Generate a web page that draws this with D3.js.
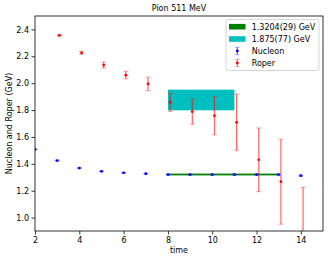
<!DOCTYPE html>
<html><head><meta charset="utf-8">
<script src="https://cdn.jsdelivr.net/npm/d3@7"></script>
<style>body{margin:0;background:#fff}svg text{font-family:"DejaVu Sans",sans-serif}</style>
</head><body>
<svg id="c" width="332" height="262"></svg>
<script>
const nucT = [2,3,4,5,6,7,8,9,10,11,12,13,14];
const nucV = [1.508,1.424,1.368,1.344,1.333,1.326,1.320,1.320,1.320,1.320,1.320,1.320,1.312];
const nucE = [0.003,0.003,0.003,0.003,0.003,0.003,0.003,0.003,0.003,0.003,0.003,0.003,0.004];
const ropT = [3,4,5,6,7,8,9,10,11,12,13,14];
const ropV = [2.356,2.226,2.135,2.060,1.995,1.858,1.788,1.758,1.709,1.430,1.267,0.88];
const ropE = [0.006,0.012,0.022,0.028,0.050,0.068,0.094,0.142,0.210,0.237,0.316,0.345];
const fitN = {t0:8, t1:13, v:1.3204, e:0.0029, label:"1.3204(29) GeV"};
const fitR = {t0:8, t1:11, v:1.875, e:0.077, label:"1.875(77) GeV"};
const xTicks = [2,4,6,8,10,12,14];
const yTicks = [1.0,1.2,1.4,1.6,1.8,2.0,2.2,2.4];

const svg = d3.select("#c");
const L=35,R=323,T=16,B=231;
const x = d3.scaleLinear().domain([2,15]).range([L,R]);
const y = d3.scaleLinear().domain([0.9,2.5]).range([B,T]);
const fs = 8;

const clip = svg.append("clipPath").attr("id","pc").append("rect")
  .attr("x",L).attr("y",T).attr("width",R-L).attr("height",B-T);
const g = svg.append("g").attr("clip-path","url(#pc)");

// cyan band
g.append("rect").attr("x",x(fitR.t0)).attr("width",x(fitR.t1)-x(fitR.t0))
  .attr("y",y(fitR.v+fitR.e)).attr("height",y(fitR.v-fitR.e)-y(fitR.v+fitR.e))
  .attr("fill","#00bfbf");
// green band
g.append("rect").attr("x",x(fitN.t0)).attr("width",x(fitN.t1)-x(fitN.t0))
  .attr("y",y(fitN.v+fitN.e)).attr("height",y(fitN.v-fitN.e)-y(fitN.v+fitN.e))
  .attr("fill","#008000").attr("stroke","#008000").attr("stroke-width",1);

function errbars(ts,vs,es,off,color){
  ts.forEach((t,i)=>{
    const cx = x(t+off);
    g.append("line").attr("x1",cx).attr("x2",cx).attr("y1",y(vs[i]-es[i])).attr("y2",y(vs[i]+es[i]))
      .attr("stroke",color).attr("stroke-opacity",0.6).attr("stroke-width",1.2);
    [vs[i]-es[i],vs[i]+es[i]].forEach(v=>{
      g.append("line").attr("x1",cx-2.5).attr("x2",cx+2.5).attr("y1",y(v)).attr("y2",y(v))
        .attr("stroke",color).attr("stroke-opacity",0.3).attr("stroke-width",1.2);
    });
    g.append("circle").attr("cx",cx).attr("cy",y(vs[i])).attr("r",1.4).attr("fill",color);
  });
}
errbars(ropT,ropV,ropE,0.1,"#ff0000");
errbars(nucT,nucV,nucE,0,"#0000ff");

// axes
const ax = svg.append("g").attr("transform",`translate(0,${B})`)
  .call(d3.axisBottom(x).tickValues(xTicks).tickFormat(d3.format("d")).tickSize(3.5).tickPadding(2.5));
const ay = svg.append("g").attr("transform",`translate(${L},0)`)
  .call(d3.axisLeft(y).tickValues(yTicks).tickFormat(d3.format(".1f")).tickSize(3.5).tickPadding(2.5));
[ax,ay].forEach(a=>{a.select(".domain").remove();a.selectAll("text").attr("font-size",fs).attr("fill","#000");a.selectAll("line").attr("stroke","#000").attr("stroke-width",0.8);});
svg.append("rect").attr("x",L).attr("y",T).attr("width",R-L).attr("height",B-T)
  .attr("fill","none").attr("stroke","#000").attr("stroke-width",0.8);

svg.append("text").attr("x",(L+R)/2).attr("y",11).attr("text-anchor","middle").attr("font-size",fs).text("Pion 511 MeV");
svg.append("text").attr("x",(L+R)/2).attr("y",253).attr("text-anchor","middle").attr("font-size",fs).text("time");
svg.append("text").attr("transform",`translate(12,${(T+B)/2}) rotate(-90)`).attr("text-anchor","middle").attr("font-size",fs).text("Nucleon and Roper (GeV)");

// legend
const lg = svg.append("g");
lg.append("rect").attr("x",226).attr("y",19.5).attr("width",93).attr("height",51).attr("rx",2)
  .attr("fill","#fff").attr("fill-opacity",0.8).attr("stroke","#ccc").attr("stroke-width",0.8);
const rows = [26.7,39,51,63];
lg.append("rect").attr("x",229).attr("y",rows[0]-2.8).attr("width",16.5).attr("height",5.6).attr("fill","#008000");
lg.append("rect").attr("x",229).attr("y",rows[1]-2.8).attr("width",16.5).attr("height",5.6).attr("fill","#00bfbf");
[["#0000ff",rows[2]],["#ff0000",rows[3]]].forEach(([c,ry])=>{
  lg.append("line").attr("x1",237.3).attr("x2",237.3).attr("y1",ry-3.6).attr("y2",ry+3.6).attr("stroke",c).attr("stroke-opacity",0.6).attr("stroke-width",1.2);
  [ry-3.6,ry+3.6].forEach(v=>lg.append("line").attr("x1",235).attr("x2",239.6).attr("y1",v).attr("y2",v).attr("stroke",c).attr("stroke-opacity",0.3).attr("stroke-width",1.2));
  lg.append("circle").attr("cx",237.3).attr("cy",ry).attr("r",1.4).attr("fill",c);
});
[fitN.label,fitR.label,"Nucleon","Roper"].forEach((t,i)=>{
  lg.append("text").attr("x",251.7).attr("y",rows[i]+2.9).attr("font-size",fs).text(t);
});
</script>
</body></html>
